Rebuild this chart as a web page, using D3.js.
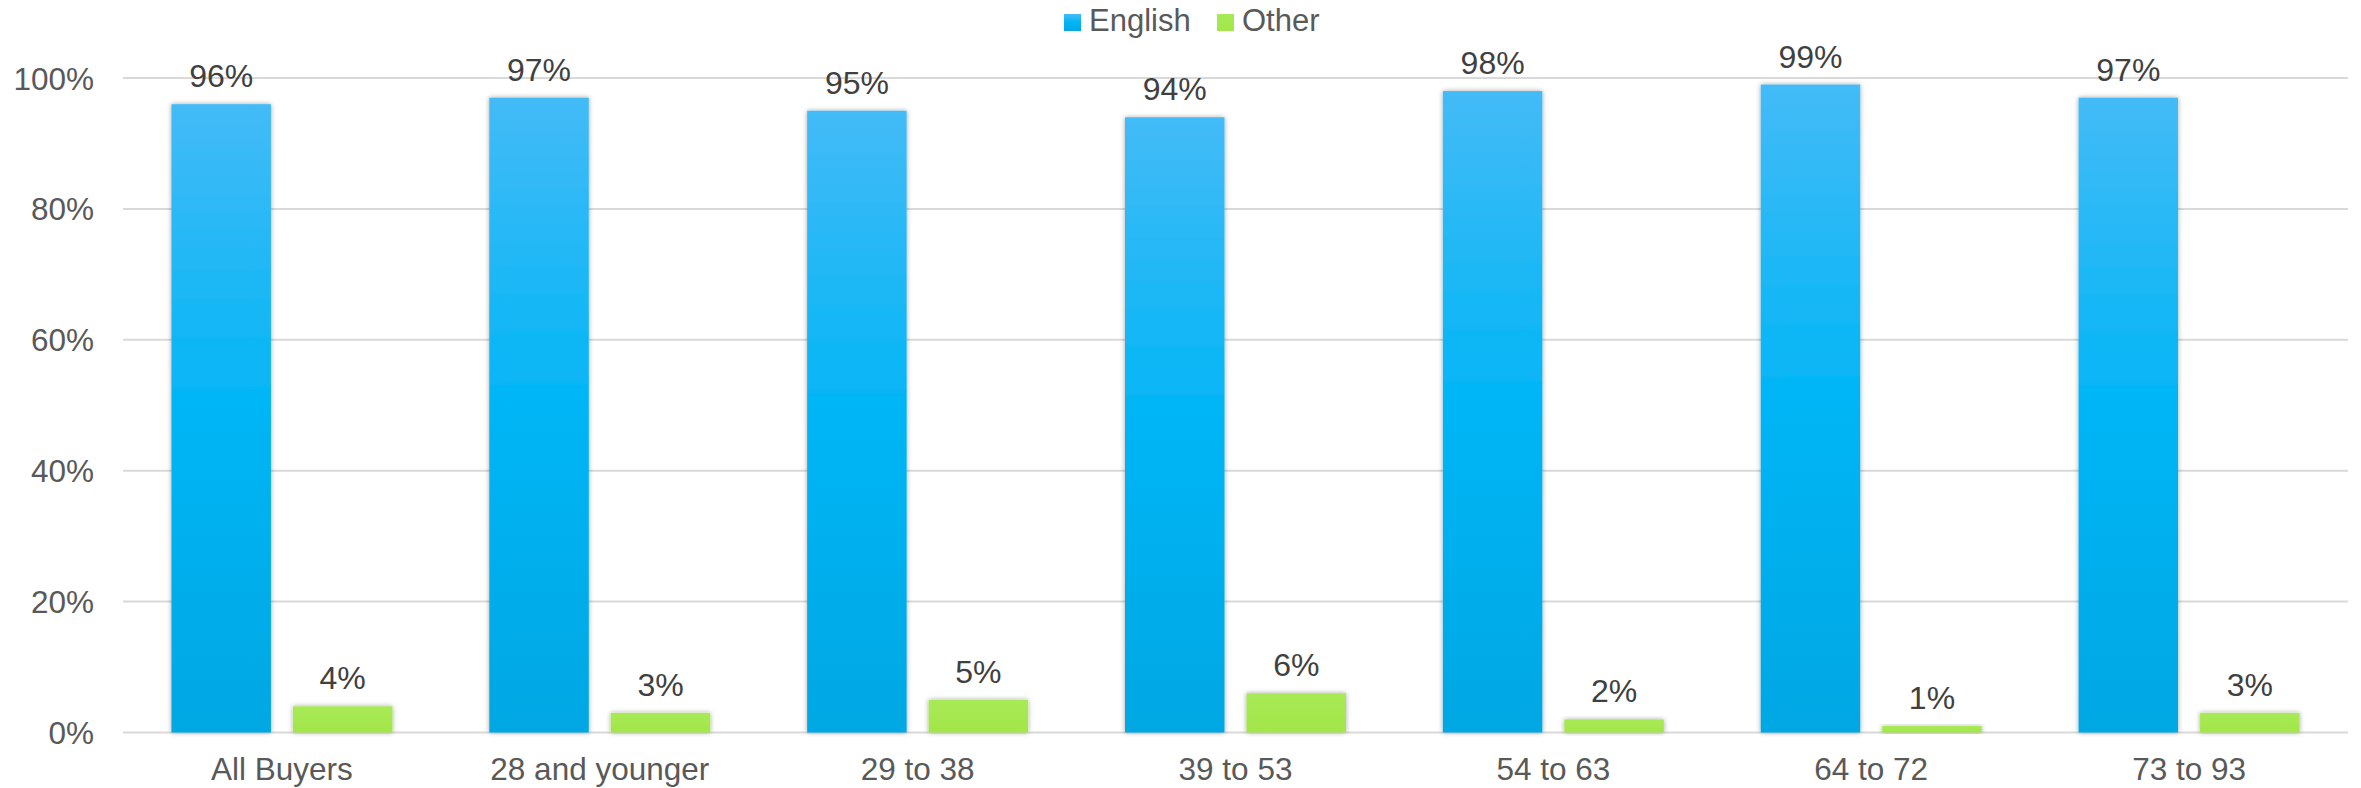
<!DOCTYPE html>
<html>
<head>
<meta charset="utf-8">
<script src="https://cdn.jsdelivr.net/npm/d3@7"></script>
<style>
  html, body { margin: 0; padding: 0; background: #ffffff; }
  svg { display: block; }
</style>
</head>
<body>
<svg id="chart" width="2361" height="788"></svg>
<script>
const categories = ["All Buyers", "28 and younger", "29 to 38", "39 to 53", "54 to 63", "64 to 72", "73 to 93"];
const seriesNames = ["English", "Other"];
const english = [96, 97, 95, 94, 98, 99, 97];
const other = [4, 3, 5, 6, 2, 1, 3];
const yTicks = [0, 20, 40, 60, 80, 100];

const W = 2361, H = 788;
const margin = { left: 123, right: 13, top: 78, bottom: 55.5 };
const FONT = "Arial, 'Liberation Sans', sans-serif";
const svg = d3.select("#chart");
const defs = svg.append("defs");

const gE = defs.append("linearGradient").attr("id", "gradE").attr("x1", 0).attr("y1", 0).attr("x2", 0).attr("y2", 1);
gE.append("stop").attr("offset", "0%").attr("stop-color", "#43bbf7");
gE.append("stop").attr("offset", "50%").attr("stop-color", "#00b5f5");
gE.append("stop").attr("offset", "100%").attr("stop-color", "#00a7e3");

const gO = defs.append("linearGradient").attr("id", "gradO").attr("x1", 0).attr("y1", 0).attr("x2", 0).attr("y2", 1);
gO.append("stop").attr("offset", "0%").attr("stop-color", "#a8ea55");
gO.append("stop").attr("offset", "100%").attr("stop-color", "#a2e64a");

const f = defs.append("filter").attr("id", "shadow").attr("x", "-20%").attr("y", "-20%").attr("width", "140%").attr("height", "140%");
f.append("feDropShadow").attr("dx", 0).attr("dy", 0).attr("stdDeviation", 2.5)
  .attr("flood-color", "#000").attr("flood-opacity", 0.35);

const x0 = d3.scaleBand().domain(categories).range([margin.left, W - margin.right]).paddingInner(0).paddingOuter(0);
const y = d3.scaleLinear().domain([0, 100]).range([H - margin.bottom, margin.top]);

// gridlines
svg.append("g").selectAll("line").data(yTicks).join("line")
  .attr("x1", margin.left).attr("x2", W - margin.right)
  .attr("y1", d => y(d)).attr("y2", d => y(d))
  .attr("stroke", "#d9d9d9").attr("stroke-width", 2);

// y axis labels
const yAxis = d3.axisLeft(y).tickValues(yTicks).tickFormat(d => d + "%").tickSize(0).tickPadding(0);
const yg = svg.append("g").attr("transform", `translate(94,0)`).call(yAxis);
yg.select(".domain").remove();
yg.selectAll("text").attr("font-family", FONT).attr("font-size", 31.5)
  .attr("fill", "#595959").attr("dy", "0.35em");

// x axis labels
const xAxis = d3.axisBottom(x0).tickSize(0).tickPadding(0);
const xg = svg.append("g").attr("transform", `translate(0,${y(0)})`).call(xAxis);
xg.select(".domain").remove();
xg.selectAll("text").attr("font-family", FONT).attr("font-size", 31.5)
  .attr("fill", "#595959").attr("dy", "1.5em");

const barW = 99.5, gap = 22;
const data = categories.map((c, i) => ({ c, vals: [english[i], other[i]] }));

const grp = svg.append("g").selectAll("g").data(data).join("g")
  .attr("transform", d => `translate(${x0(d.c) + x0.bandwidth() / 2},0)`);

grp.selectAll("rect").data(d => d.vals.map((v, j) => ({ v, j }))).join("rect")
  .attr("x", d => d.j === 0 ? -(barW + gap / 2) : gap / 2)
  .attr("width", barW)
  .attr("y", d => y(d.v))
  .attr("height", d => y(0) - y(d.v))
  .attr("fill", d => d.j === 0 ? "url(#gradE)" : "url(#gradO)")
  .attr("filter", "url(#shadow)");

grp.selectAll("text.lbl").data(d => d.vals.map((v, j) => ({ v, j }))).join("text")
  .attr("class", "lbl")
  .attr("x", d => d.j === 0 ? -(barW + gap / 2) + barW / 2 : gap / 2 + barW / 2)
  .attr("y", d => y(d.v) - 17)
  .attr("text-anchor", "middle")
  .attr("font-family", FONT).attr("font-size", 32)
  .attr("fill", "#404040")
  .text(d => d.v + "%");

// legend
const legendX = [1064, 1217];
const lg = svg.append("g").selectAll("g").data(seriesNames).join("g")
  .attr("transform", (d, i) => `translate(${legendX[i]},14)`);
lg.append("rect").attr("width", 17).attr("height", 17)
  .attr("fill", (d, i) => i === 0 ? "url(#gradE)" : "url(#gradO)");
lg.append("text").attr("x", 25).attr("y", 17)
  .attr("font-family", FONT).attr("font-size", 31)
  .attr("fill", "#595959").text(d => d);
</script>
</body>
</html>
